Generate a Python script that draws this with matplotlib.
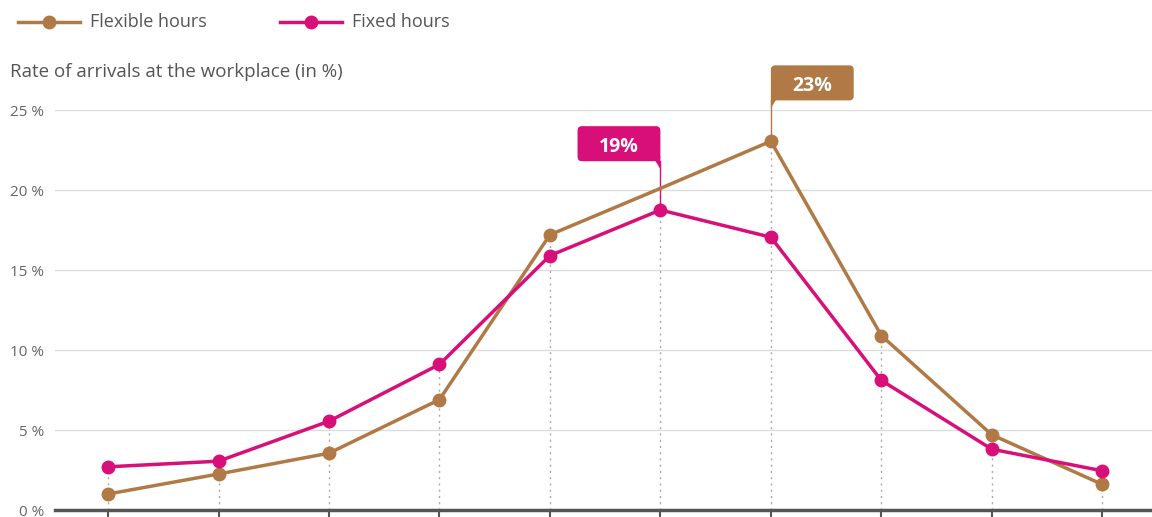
import matplotlib.pyplot as plt
from matplotlib.lines import Line2D
from matplotlib.patches import FancyBboxPatch, Polygon

plt.rcParams['font.family'] = ['Open Sans', 'DejaVu Sans']

slots = list(range(10))
flexible = [1.0, 2.25, 3.55, 6.9, 17.2, 20.1, 23.05, 10.9, 4.7, 1.6]
fixed = [2.7, 3.05, 5.55, 9.1, 15.9, 18.75, 17.05, 8.1, 3.8, 2.45]
y_ticks = [0, 5, 10, 15, 20, 25]
y_labels = ['0 %', '5 %', '10 %', '15 %', '20 %', '25 %']

BROWN = '#B07946'
PINK = '#D80F78'

fig = plt.figure(figsize=(11.52, 5.17), dpi=100)
ax = fig.add_axes([55 / 1152, 7 / 517, 1 - 55 / 1152, 400 / 517])
ax.set_xlim(-0.48, 9.45)
ax.set_ylim(0, 25)

# grid
for t in y_ticks[1:]:
    ax.axhline(t, color='#dddddd', lw=1, zorder=0)

# dotted drop lines
for x, a, b in zip(slots, flexible, fixed):
    ax.plot([x, x], [0, max(a, b)], color='#aaaaaa', lw=1,
            linestyle=(0, (1.5, 3)), zorder=1)

ax.plot(slots, flexible, color=BROWN, lw=2.5, marker='o', ms=9,
        markevery=[0, 1, 2, 3, 4, 6, 7, 8, 9], zorder=3)
ax.plot(slots, fixed, color=PINK, lw=2.5, marker='o', ms=9, zorder=4)

ax.set_yticks(y_ticks)
ax.set_yticklabels(y_labels, color='#666666', fontsize=11)
ax.tick_params(axis='y', length=0, pad=8)
ax.set_xticks(slots)
ax.set_xticklabels([])
ax.tick_params(axis='x', length=9, width=1.5, color='#555555')
for s in ['top', 'right', 'left']:
    ax.spines[s].set_visible(False)
ax.spines['bottom'].set_color('#555555')
ax.spines['bottom'].set_linewidth(2.5)


def callout(x, val, text, color, gap, side):
    # box size in data units (x: 110.5 px per slot, y: 16 px per %)
    w = 0.75
    h = 2.19
    bottom = val + gap
    left = x if side == 'right' else x - w
    ax.plot([x, x], [val, bottom], color=color, lw=1, zorder=2, clip_on=False)
    box = FancyBboxPatch((left, bottom), w, h,
                         boxstyle='round,pad=0,rounding_size=0.04',
                         mutation_aspect=110.5 / 16, fc=color, ec='none',
                         clip_on=False, zorder=5)
    ax.add_patch(box)
    tip = 0.07 if side == 'right' else -0.07
    ax.add_patch(Polygon([[x, bottom + 0.3], [x, bottom - 0.5], [x + tip, bottom + 0.3]],
                         closed=True, fc=color, ec='none', clip_on=False, zorder=5))
    ax.text(left + w / 2, bottom + h / 2 - 0.2, text, color='white', fontsize=14,
            fontweight='bold', ha='center', va='center', zorder=6, clip_on=False)


callout(6, flexible[6], '23%', BROWN, 2.55, 'right')
callout(5, fixed[5], '19%', PINK, 3.05, 'left')

# legend
def legend_item(x0, x1, color, label):
    fig.add_artist(Line2D([x0 / 1152, x1 / 1152], [1 - 22 / 517] * 2,
                          color=color, lw=2.5, transform=fig.transFigure))
    fig.add_artist(Line2D([(x0 + x1) / 2 / 1152], [1 - 22 / 517], color=color,
                          marker='o', ms=9, transform=fig.transFigure))
    fig.text((x1 + 10) / 1152, 1 - 22 / 517, label, fontsize=13,
             color='#555555', va='center', ha='left')


legend_item(18, 80, BROWN, 'Flexible hours')
legend_item(280, 342, PINK, 'Fixed hours')

fig.text(10 / 1152, 1 - 72 / 517, 'Rate of arrivals at the workplace (in %)',
         fontsize=13.5, color='#555555', va='center', ha='left')

fig.savefig('out.png', dpi=100)
